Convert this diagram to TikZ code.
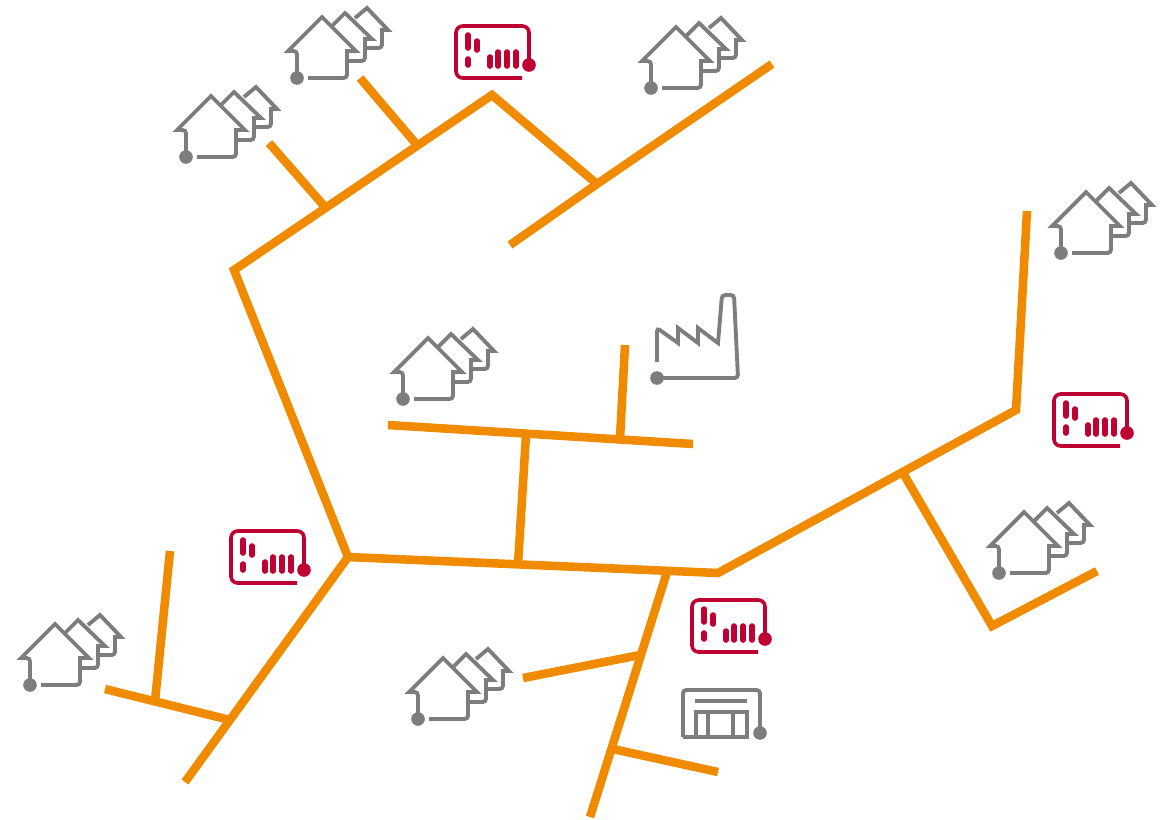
\documentclass[tikz,border=0pt]{standalone}
\usepackage{tikz}
\definecolor{grid}{RGB}{240,139,0}
\definecolor{ink}{RGB}{125,125,127}
\definecolor{meter}{RGB}{190,0,50}
\tikzset{
  every picture/.style={x=0.75pt, y=-0.75pt},
  feeder/.style={draw=grid, line width=6.4pt, line join=miter},
  icon/.style={draw=ink, line width=2.9pt, rounded corners=2.5pt},
  bar/.style={draw=meter, line width=4.2pt, line cap=round},
  houses/.pic={
    \draw[icon] (0,0) -- (0,-27) [sharp corners] -- (-9,-27) -- (25,-61) -- (59,-27) -- (50,-27) [rounded corners=2.5pt] -- (50,0) -- (11,0);
    \draw[icon, sharp corners] (35,-52) -- (48,-65) -- (75,-39) -- (68,-39) [rounded corners=2.5pt] -- (68,-17) -- (51,-17);
    \draw[icon, sharp corners] (58,-60) -- (70,-70) -- (91,-48) -- (85,-48) [rounded corners=2.5pt] -- (85,-30) -- (69,-30);
    \fill[ink] (0,0) circle (6.8);
  },
  smartmeter/.pic={
    \draw[draw=meter, line width=2.7pt, rounded corners=5pt] (0,0) -- (0,-39) -- (-73,-39) -- (-73,13) -- (-7,13);
    \draw[bar] (-61,-30) -- (-61,-17);
    \draw[bar] (-52,-24) -- (-52,-15);
    \draw[bar] (-61,-6) -- (-61,0);
    \draw[bar] (-39,-8) -- (-39,1);
    \draw[bar] (-31,-13) -- (-31,1);
    \draw[bar] (-22,-13) -- (-22,1);
    \draw[bar] (-13,-13) -- (-13,1);
    \fill[meter] (0,0) circle (6.8);
  },
}
\begin{document}
\begin{tikzpicture}
  \useasboundingbox (0,0) rectangle (1167,819);
  % junctions
  \coordinate (nw) at (234,270);
  \coordinate (top) at (492,95);
  \coordinate (j1) at (325,207);
  \coordinate (e1) at (269,143);
  \coordinate (j2) at (417,145);
  \coordinate (e2) at (360,78);
  \coordinate (j3) at (597,184);
  \coordinate (e3) at (772,64);
  \coordinate (e4) at (510,245);
  \coordinate (hub) at (348,557);
  \coordinate (east) at (718,573);
  \coordinate (ne) at (1016,410);
  \coordinate (e5) at (1027,211);
  \coordinate (j4) at (903,473);
  \coordinate (se) at (992,626);
  \coordinate (e6) at (1097,571);
  \coordinate (j5) at (518,564);
  \coordinate (j6) at (526,435);
  \coordinate (e7) at (388,425);
  \coordinate (e8) at (693,444);
  \coordinate (j7) at (620,438);
  \coordinate (e9) at (625,345);
  \coordinate (j8) at (667,572);
  \coordinate (e10) at (590,817);
  \coordinate (j9) at (640,655);
  \coordinate (e11) at (523,678);
  \coordinate (j10) at (613,749);
  \coordinate (e12) at (718,772);
  \coordinate (j11) at (230,720);
  \coordinate (e13) at (185,782);
  \coordinate (j12) at (155,701);
  \coordinate (e14) at (105,689);
  \coordinate (e15) at (170,551);
  % feeders
  \draw[feeder] (e4) -- (j3) -- (e3);
  \draw[feeder] (j3) -- (top) -- (nw) -- (hub) -- (east) -- (ne) -- (e5);
  \draw[feeder] (e1) -- (j1);
  \draw[feeder] (e2) -- (j2);
  \draw[feeder] (j4) -- (se) -- (e6);
  \draw[feeder] (j5) -- (j6);
  \draw[feeder] (e7) -- (e8);
  \draw[feeder] (j7) -- (e9);
  \draw[feeder] (j8) -- (e10);
  \draw[feeder] (j9) -- (e11);
  \draw[feeder] (j10) -- (e12);
  \draw[feeder] (hub) -- (e13);
  \draw[feeder] (e14) -- (j11);
  \draw[feeder] (j12) -- (e15);
  % loads
  \foreach \pos in {(186,157),(297,78),(651,88),(1061,253),(403,399),(999,573),(30,685),(418,719)}
    \pic at \pos {houses};
  \foreach \pos in {(529,65),(1127,433),(304,570),(765,639)}
    \pic at \pos {smartmeter};
  % factory
  \draw[icon] (657,362) -- (657,328) [sharp corners] -- (678,343) -- (678,328) -- (698,343) -- (698,328) -- (718,343) [rounded corners=2.5pt] -- (722,295) -- (734,295) -- (738,378) -- (657,378);
  \fill[ink] (657,378) circle (6.8);
  % store
  \draw[icon] (683,737) -- (683,690) -- (760,690) -- (760,733);
  \draw[icon, sharp corners] (683,737) -- (747,737) -- (747,712) -- (696,712) -- (696,737);
  \draw[icon, sharp corners] (708,712) -- (708,737);
  \draw[icon, sharp corners] (733,712) -- (733,737);
  \draw[icon, sharp corners, line width=3.4pt] (695,701) -- (747,701);
  \fill[ink] (760,733) circle (6.8);
\end{tikzpicture}
\end{document}
